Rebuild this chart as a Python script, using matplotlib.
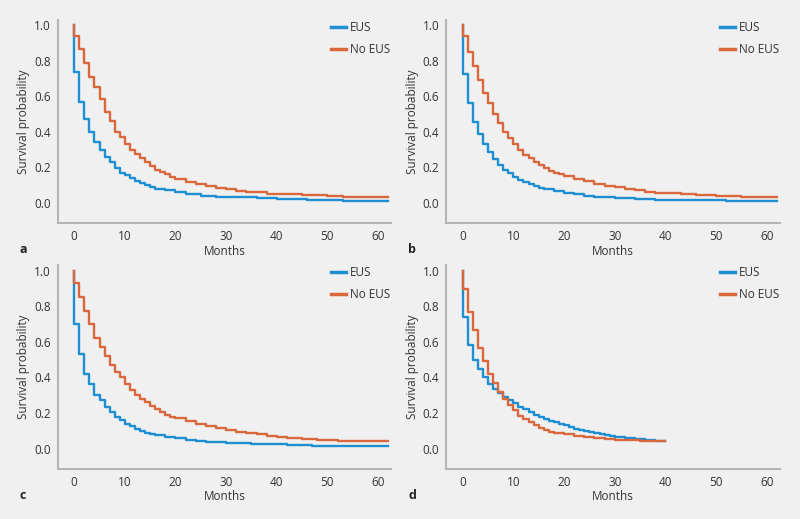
import matplotlib
matplotlib.use("Agg")
import matplotlib.pyplot as plt

# Kaplan-Meier curves: survival after each step (time in months)
# panel a
a_eus_t = [0, 1, 2, 3, 4, 5, 6, 7, 8, 9, 10, 11, 12, 13, 14, 15, 16, 18, 20, 22, 25, 28, 32, 36, 40, 46, 53, 62]
a_eus_s = [0.735, 0.57, 0.47, 0.40, 0.345, 0.295, 0.26, 0.23, 0.195, 0.17, 0.155, 0.14, 0.12, 0.11, 0.10, 0.09,
           0.08, 0.07, 0.06, 0.05, 0.04, 0.035, 0.03, 0.025, 0.02, 0.015, 0.01, 0.01]
a_no_t = [0, 1, 2, 3, 4, 5, 6, 7, 8, 9, 10, 11, 12, 13, 14, 15, 16, 17, 18, 19, 20, 22, 24, 26, 28, 30, 32, 34,
          36, 38, 40, 45, 50, 53, 62]
a_no_s = [0.94, 0.867, 0.79, 0.71, 0.655, 0.586, 0.51, 0.46, 0.40, 0.37, 0.333, 0.30, 0.273, 0.25, 0.227, 0.206,
          0.187, 0.174, 0.16, 0.146, 0.133, 0.118, 0.105, 0.094, 0.084, 0.075, 0.067, 0.062, 0.058, 0.052, 0.049,
          0.045, 0.037, 0.03, 0.03]

# panel b
b_eus_t = [0, 1, 2, 3, 4, 5, 6, 7, 8, 9, 10, 11, 12, 13, 14, 15, 16, 18, 20, 22, 24, 26, 30, 34, 38, 44, 52, 62]
b_eus_s = [0.725, 0.56, 0.455, 0.39, 0.33, 0.285, 0.245, 0.21, 0.185, 0.165, 0.145, 0.13, 0.115, 0.105, 0.095,
           0.085, 0.075, 0.065, 0.055, 0.048, 0.04, 0.032, 0.027, 0.022, 0.018, 0.013, 0.01, 0.008]
b_no_t = [0, 1, 2, 3, 4, 5, 6, 7, 8, 9, 10, 11, 12, 13, 14, 15, 16, 17, 18, 19, 20, 22, 24, 26, 28, 30, 32, 34,
          36, 38, 40, 43, 46, 50, 55, 60, 62]
b_no_s = [0.94, 0.85, 0.77, 0.69, 0.62, 0.56, 0.50, 0.45, 0.40, 0.365, 0.33, 0.30, 0.27, 0.25, 0.23, 0.21, 0.195,
          0.18, 0.17, 0.16, 0.15, 0.135, 0.12, 0.105, 0.095, 0.088, 0.08, 0.07, 0.063, 0.057, 0.053, 0.048, 0.042,
          0.037, 0.032, 0.03, 0.03]

# panel c
c_eus_t = [0, 1, 2, 3, 4, 5, 6, 7, 8, 9, 10, 11, 12, 13, 14, 15, 16, 18, 20, 22, 24, 26, 30, 35, 42, 47, 62]
c_eus_s = [0.70, 0.53, 0.42, 0.36, 0.30, 0.27, 0.235, 0.205, 0.18, 0.16, 0.14, 0.125, 0.11, 0.10, 0.09, 0.082,
           0.075, 0.066, 0.058, 0.05, 0.04, 0.035, 0.03, 0.025, 0.02, 0.015, 0.015]
c_no_t = [0, 1, 2, 3, 4, 5, 6, 7, 8, 9, 10, 11, 12, 13, 14, 15, 16, 17, 18, 19, 20, 22, 24, 26, 28, 30, 32, 34,
          36, 38, 40, 42, 45, 48, 52, 55, 62]
c_no_s = [0.93, 0.85, 0.77, 0.70, 0.62, 0.57, 0.52, 0.47, 0.43, 0.40, 0.36, 0.33, 0.30, 0.28, 0.26, 0.24, 0.22,
          0.205, 0.19, 0.18, 0.17, 0.155, 0.14, 0.125, 0.115, 0.105, 0.095, 0.088, 0.08, 0.072, 0.066, 0.06, 0.055,
          0.05, 0.045, 0.04, 0.04]

# panel d
d_eus_t = [0, 1, 2, 3, 4, 5, 6, 7, 8, 9, 10, 11, 12, 13, 14, 15, 16, 17, 18, 19, 20, 21, 22, 23, 24, 25, 26, 27,
           28, 29, 30, 32, 34, 36, 38, 40]
d_eus_s = [0.74, 0.58, 0.50, 0.445, 0.40, 0.365, 0.335, 0.31, 0.29, 0.27, 0.255, 0.235, 0.22, 0.205, 0.19, 0.178,
           0.168, 0.157, 0.147, 0.138, 0.13, 0.12, 0.112, 0.105, 0.098, 0.092, 0.085, 0.08, 0.075, 0.07, 0.065,
           0.06, 0.055, 0.05, 0.045, 0.045]
d_no_t = [0, 1, 2, 3, 4, 5, 6, 7, 8, 9, 10, 11, 12, 13, 14, 15, 16, 17, 18, 19, 20, 22, 24, 26, 28, 30, 32, 35, 40]
d_no_s = [0.897, 0.765, 0.666, 0.567, 0.49, 0.42, 0.37, 0.32, 0.28, 0.245, 0.215, 0.185, 0.165, 0.15, 0.13, 0.118,
          0.105, 0.095, 0.09, 0.085, 0.08, 0.072, 0.065, 0.058, 0.055, 0.05, 0.048, 0.04, 0.04]

panels = [
    ("a", a_eus_t, a_eus_s, a_no_t, a_no_s),
    ("b", b_eus_t, b_eus_s, b_no_t, b_no_s),
    ("c", c_eus_t, c_eus_s, c_no_t, c_no_s),
    ("d", d_eus_t, d_eus_s, d_no_t, d_no_s),
]

BLUE = '#1f8fd4'
ORANGE = '#d9683c'
BG = '#f0f0f0'
TXT = '#333333'
plt.rcParams['font.family'] = ['Open Sans', 'DejaVu Sans']

fig = plt.figure(figsize=(8, 5.19), dpi=100, facecolor=BG)

# axes boxes in figure fraction [left, bottom, width, height]
boxes = [
    [0.0725, 0.570, 0.4165, 0.3915],
    [0.558, 0.570, 0.417, 0.3915],
    [0.0725, 0.0963, 0.4165, 0.3927],
    [0.558, 0.0963, 0.417, 0.3927],
]


def km(t, s):
    # prepend start at 1.0
    return [0] + list(t), [1.0] + list(s)


for (letter, et, es, nt, ns), box in zip(panels, boxes):
    ax = fig.add_axes(box)
    ax.set_facecolor(BG)
    x, y = km(et, es)
    ax.step(x, y, where='post', color=BLUE, lw=1.7, label='EUS')
    x, y = km(nt, ns)
    ax.step(x, y, where='post', color=ORANGE, lw=1.7, label='No EUS')

    ax.set_xlim(-3.2, 62.6)
    ax.set_ylim(-0.115, 1.03)
    ax.set_xticks([0, 10, 20, 30, 40, 50, 60])
    ax.set_yticks([0.0, 0.2, 0.4, 0.6, 0.8, 1.0])
    ax.set_yticklabels(['0.0', '0.2', '0.4', '0.6', '0.8', '1.0'])
    ax.tick_params(length=0, labelsize=8.5, labelcolor=TXT, pad=5)
    for sp in ['top', 'right']:
        ax.spines[sp].set_visible(False)
    for sp in ['left', 'bottom']:
        ax.spines[sp].set_color('#b4b4b4')
        ax.spines[sp].set_linewidth(1.5)
    ax.set_xlabel('Months', fontsize=8.5, color=TXT, labelpad=1)
    ax.set_ylabel('Survival probability', fontsize=8.5, color=TXT, labelpad=3)

    leg = ax.legend(loc='upper right', bbox_to_anchor=(1.0, 1.0), frameon=False, fontsize=8.5,
                    handlelength=1.3, handletextpad=0.3, labelspacing=0.75, borderaxespad=0.0,
                    borderpad=0.1)
    for t in leg.get_texts():
        t.set_color(TXT)
    for ln in leg.get_lines():
        ln.set_linewidth(2.5)

    ax.text(-0.115, -0.13, letter, transform=ax.transAxes, fontsize=9, fontweight='bold',
            color='#222222', ha='left', va='center')

fig.savefig('out.png', dpi=100, facecolor=BG)
